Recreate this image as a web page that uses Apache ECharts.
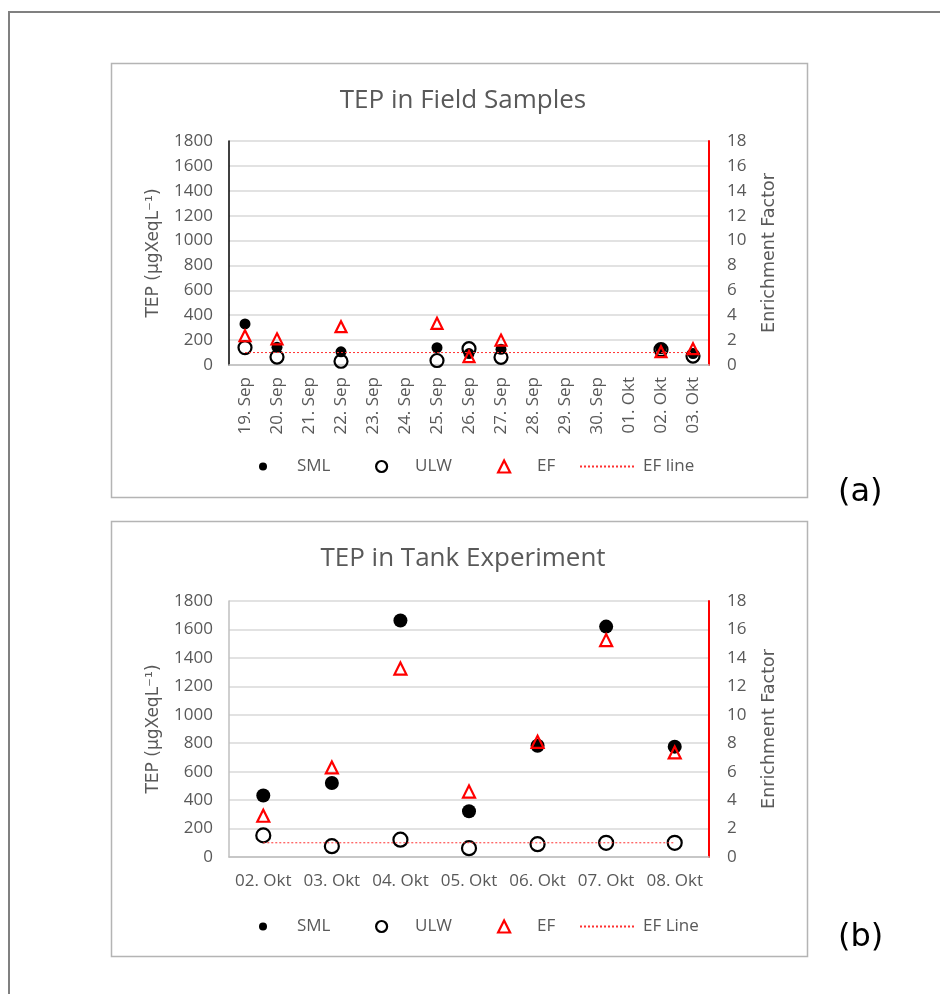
<!DOCTYPE html>
<html><head><meta charset="utf-8">
<script src="https://cdn.jsdelivr.net/npm/echarts@6/dist/echarts.min.js"></script>
<style>html,body{margin:0;padding:0;background:#fff}#c{width:940px;height:994px}</style>
</head><body><div id="c"></div><script>
// ---- data: field samples (a) ----
const fieldDates = ['19. Sep','20. Sep','21. Sep','22. Sep','23. Sep','24. Sep','25. Sep','26. Sep','27. Sep','28. Sep','29. Sep','30. Sep','01. Okt','02. Okt','03. Okt'];
const fieldSML   = [330, 142, '-', 106, '-', '-', 139, 92, 126, '-', '-', '-', '-', 131, 92];
const fieldULW   = [140, 64, '-', 30, '-', '-', 36, 131, 62, '-', '-', '-', '-', 124, 72];
const fieldEF    = [2.35, 2.1, '-', 3.08, '-', '-', 3.35, 0.68, 2.0, '-', '-', '-', '-', 1.07, 1.31];
const fieldEFLine = [1, 1, 1, 1, 1, 1, 1, 1, 1, 1, 1, 1, 1, 1, 1];
// ---- data: tank experiment (b) ----
const tankDates = ['02. Okt','03. Okt','04. Okt','05. Okt','06. Okt','07. Okt','08. Okt'];
const tankSML   = [432, 520, 1663, 322, 782, 1620, 776];
const tankULW   = [152, 76, 122, 62, 90, 100, 100];
const tankEF    = [2.9, 6.3, 13.25, 4.6, 8.1, 15.25, 7.35];
const tankEFLine = [1, 1, 1, 1, 1, 1, 1];
// ---- axis ticks ----
const tepTicks = {min: 0, max: 1800, interval: 200};
const efTicks  = {min: 0, max: 18, interval: 2};

const FONT = "'Open Sans', sans-serif";
const NAMEFONT = "'DejaVu Sans', sans-serif";
const GREY = '#595959';
const plain = (v) => String(v);

function yAxes(gridIndex, leftLineColor) {
  return [{
    type: 'value', gridIndex, position: 'left', ...tepTicks,
    name: 'TEP (µgXeqL⁻¹)', nameLocation: 'middle', nameRotate: 90, nameGap: 67,
    nameTextStyle: {fontFamily: NAMEFONT, fontSize: 17, color: GREY},
    axisLine: {show: true, lineStyle: {color: leftLineColor, width: 1.5}},
    axisTick: {show: false},
    axisLabel: {fontFamily: FONT, fontSize: 17, color: GREY, margin: 16, formatter: plain},
    splitLine: {show: true, lineStyle: {color: '#d9d9d9', width: 1.5}}
  }, {
    type: 'value', gridIndex, position: 'right', ...efTicks,
    name: 'Enrichment Factor', nameLocation: 'middle', nameRotate: 90, nameGap: 51,
    nameTextStyle: {fontFamily: NAMEFONT, fontSize: 17.5, color: GREY},
    axisLine: {show: true, lineStyle: {color: '#ff0000', width: 2}},
    axisTick: {show: false},
    axisLabel: {fontFamily: FONT, fontSize: 17, color: GREY, margin: 18, formatter: plain},
    splitLine: {show: false}
  }];
}

function legends(top, lineName) {
  const ts = (pad) => ({fontFamily: FONT, fontSize: 17, color: GREY, padding: [0, 0, 0, pad]});
  const t = top - 8;
  return [
    {data: [{name: 'SML', icon: 'circle', itemStyle: {opacity: 1}}], left: 259, top: t, padding: 0, itemWidth: 8, itemHeight: 8, textStyle: ts(25), selectedMode: false},
    {data: [{name: 'ULW', icon: 'circle', itemStyle: {borderWidth: 2.2}}], left: 375, top: t, padding: 0, itemWidth: 11, itemHeight: 11, textStyle: ts(23), selectedMode: false},
    {data: [{name: 'EF', icon: 'triangle', itemStyle: {borderWidth: 2.2}}], left: 497, top: t, padding: 0, itemWidth: 12, itemHeight: 12, textStyle: ts(22), selectedMode: false},
    {data: [{name: lineName, itemStyle: {opacity: 0}}], left: 579, top: t, padding: 0, itemWidth: 54, itemHeight: 8, textStyle: ts(4), selectedMode: false}
  ];
}

function seriesSet(xi, yi, sml, ulw, ef, efLine, lineName, sizes) {
  return [
    {name: 'SML', type: 'scatter', xAxisIndex: xi, yAxisIndex: yi, data: sml, symbol: 'circle', symbolSize: sizes[0],
     itemStyle: {color: '#000', opacity: 1}, z: 2},
    {name: 'ULW', type: 'scatter', xAxisIndex: xi, yAxisIndex: yi, data: ulw, symbol: 'circle', symbolSize: sizes[1],
     itemStyle: {color: 'rgba(255,255,255,0)', borderColor: '#000', borderWidth: 2.2, opacity: 1}, z: 3},
    {name: lineName, type: 'line', xAxisIndex: xi, yAxisIndex: yi + 1, data: efLine, symbol: 'none', showSymbol: false,
     lineStyle: {color: '#ff3030', width: 1, type: [2, 2]}, itemStyle: {color: '#ff3030'}, z: 4},
    {name: 'EF', type: 'scatter', xAxisIndex: xi, yAxisIndex: yi + 1, data: ef, symbol: 'triangle', symbolSize: sizes[2],
     itemStyle: {color: 'rgba(255,255,255,0)', borderColor: '#ff0000', borderWidth: 2.2, opacity: 1}, z: 5}
  ];
}

const chart = echarts.init(document.getElementById('c'), null, {renderer: 'canvas'});
chart.setOption({
  animation: false,
  backgroundColor: '#fff',
  title: [
    {text: 'TEP in Field Samples', left: 458, top: 83, textAlign: 'center',
     textStyle: {fontFamily: FONT, fontSize: 26, fontWeight: 'normal', color: GREY}},
    {text: 'TEP in Tank Experiment', left: 458, top: 541, textAlign: 'center',
     textStyle: {fontFamily: FONT, fontSize: 26, fontWeight: 'normal', color: GREY}}
  ],
  grid: [
    {left: 229, right: 231, top: 141, height: 224, containLabel: false, outerBoundsMode: 'none'},
    {left: 229, right: 231, top: 601, height: 256, containLabel: false, outerBoundsMode: 'none'}
  ],
  xAxis: [
    {type: 'category', gridIndex: 0, data: fieldDates, boundaryGap: true,
     axisLine: {lineStyle: {color: '#bfbfbf', width: 1.5}}, axisTick: {show: false},
     axisLabel: {rotate: 90, interval: 0, fontFamily: FONT, fontSize: 17, color: GREY, margin: 12}},
    {type: 'category', gridIndex: 1, data: tankDates, boundaryGap: true,
     axisLine: {lineStyle: {color: '#bfbfbf', width: 1.5}}, axisTick: {show: false},
     axisLabel: {interval: 0, fontFamily: FONT, fontSize: 17, color: GREY, margin: 16}}
  ],
  yAxis: [...yAxes(0, '#000000'), ...yAxes(1, '#bfbfbf')],
  legend: [...legends(466, 'EF line'), ...legends(926, 'EF Line')],
  series: [
    ...seriesSet(0, 0, fieldSML, fieldULW, fieldEF, fieldEFLine, 'EF line', [11, 13, 11]),
    ...seriesSet(1, 2, tankSML, tankULW, tankEF, tankEFLine, 'EF Line', [14, 14, 12])
  ],
  graphic: [
    {type: 'rect', shape: {x: 9, y: 12, width: 1000, height: 1000}, style: {fill: null, stroke: '#808080', lineWidth: 2}, silent: true, z: -10},
    {type: 'rect', shape: {x: 111.5, y: 63.5, width: 696, height: 434}, style: {fill: null, stroke: '#b4b4b4', lineWidth: 1.5}, silent: true, z: -10},
    {type: 'rect', shape: {x: 111.5, y: 521.5, width: 696, height: 435}, style: {fill: null, stroke: '#b4b4b4', lineWidth: 1.5}, silent: true, z: -10},
    {type: 'text', x: 838, y: 493, style: {text: '(a)', font: "32px 'DejaVu Sans', sans-serif", fill: '#000', verticalAlign: 'middle'}},
    {type: 'text', x: 838, y: 938, style: {text: '(b)', font: "32px 'DejaVu Sans', sans-serif", fill: '#000', verticalAlign: 'middle'}}
  ]
});
</script></body></html>
